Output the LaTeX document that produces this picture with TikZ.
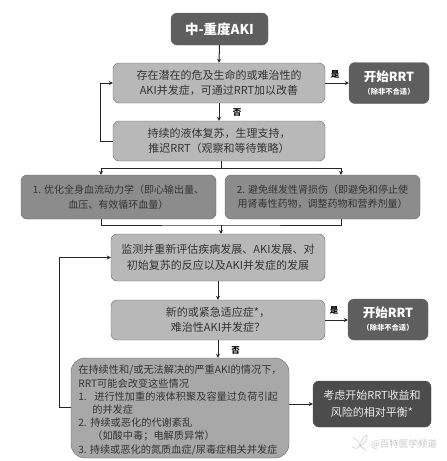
\documentclass[tikz,border=0pt]{standalone}
\usepackage{fontspec}
\setmainfont{Noto Sans CJK SC}
\usetikzlibrary{arrows.meta}
\definecolor{darkbox}{gray}{0.37}
\definecolor{midbox}{gray}{0.55}
\definecolor{lightbox}{gray}{0.72}
\definecolor{bigbox}{gray}{0.66}
\definecolor{inktext}{gray}{0.2}
\newcommand{\tinyline}{\fontsize{7.3}{8}\selectfont}
\tikzset{
  flowbox/.style={draw=gray!80!black,rounded corners=6pt,inner sep=0pt,align=center,text=inktext,font=\fontsize{11}{15.5}\selectfont},
  lightstep/.style={flowbox,fill=lightbox,minimum width=212pt,minimum height=40pt},
  sidestep/.style={flowbox,fill=midbox,minimum width=195pt,minimum height=44pt,font=\fontsize{10}{14.5}\selectfont},
  startbox/.style={flowbox,draw=darkbox,fill=darkbox,text=white,minimum width=80pt,minimum height=41pt,font=\fontsize{12.5}{14}\selectfont\bfseries},
  yesno/.style={inner sep=0pt,text=black,font=\fontsize{8.5}{9}\selectfont\bfseries},
  link/.style={line width=1pt,draw=black!85,-{Stealth[length=4pt,width=4pt]}},
  plain/.style={line width=1pt,draw=black!85}
}
\begin{document}
\begin{tikzpicture}[x=1pt,y=-1pt]
  \useasboundingbox (0,0) rectangle (447,461);
  % boxes
  \node[startbox,minimum width=97pt,minimum height=32pt,font=\fontsize{13.5}{15}\selectfont\bfseries] (aki) at (219.5,29) {中-重度AKI};
  \node[lightstep] (threat) at (219,83) {存在潜在的危及生命的或难治性的\\AKI并发症，可通过RRT加以改善};
  \node[startbox] (start1) at (389,83) {开始RRT\\[-1pt]{\tinyline（除非不合适）}};
  \node[lightstep] (delay) at (219,141) {持续的液体复苏，生理支持，\\推迟RRT（观察和等待策略）};
  \node[sidestep] (hemo) at (118.5,197) {1. 优化全身血流动力学（即心输出量、\\血压、有效循环血量）};
  \node[sidestep] (kidney) at (322.5,197) {2. 避免继发性肾损伤（即避免和停止使\\用肾毒性药物，调整药物和营养剂量）};
  \node[lightstep,minimum width=214pt,minimum height=47pt] (monitor) at (218,257.5) {监测并重新评估疾病发展、AKI发展、对\\初始复苏的反应以及AKI并发症的发展};
  \node[lightstep,minimum width=214pt] (urgent) at (218,320) {新的或紧急适应症*，\\难治性AKI并发症？};
  \node[startbox] (start2) at (388,319.5) {开始RRT\\[-1pt]{\tinyline（除非不合适）}};
  \node[flowbox,fill=bigbox,rounded corners=14pt,minimum width=218pt,minimum height=100pt,align=left,font=\fontsize{10.2}{13.2}\selectfont] (severe) at (180,408) {\rule{0pt}{13pt}在持续性和/或无法解决的严重AKI的情况下，\\RRT可能会改变这些情况\\1.\hspace{7.5pt}进行性加重的液体积聚及容量过负荷引起\\\hspace{14pt}的并发症\\2.\hspace{3.5pt}持续或恶化的代谢紊乱\\\hspace{14pt}（如酸中毒；电解质异常）\\3. 持续或恶化的氮质血症/尿毒症相关并发症};
  \node[flowbox,draw=black!70,fill=black!70,text=white!92!black,minimum width=118pt,minimum height=46pt,font=\fontsize{11}{16.5}\selectfont] (balance) at (372,404) {考虑开始RRT收益和\\风险的相对平衡*};
  % labels
  \node[yesno] (yes1) at (335,74) {是};
  \node[yesno] (no1) at (237,112.5) {否};
  \node[yesno] (yes2) at (334,310) {是};
  \node[yesno] (no2) at (235.5,350) {否};
  \node[inner sep=0pt,text=black!22,font=\fontsize{9.5}{10}\selectfont] (mark) at (404,444) {@百特医学频道};
  % little logo beside the mark
  \draw[black!18,line width=0.7pt] (353,438) .. controls (357,439) and (359,442) .. (360,446) .. controls (357,449) and (354,449) .. (352,447);
  \draw[black!18,line width=0.7pt] (360,446) .. controls (361,441) and (364,436) .. (367,435) .. controls (368,439) and (365,444) .. (360,446);
  \draw[black!18,line width=0.7pt] (360,446) .. controls (362,447) and (364,449) .. (366,450);
  % branch points
  \coordinate (split) at (221,168);
  \coordinate (join) at (221,225);
  % arrows
  \draw[link] (aki.south) -- (threat.north);
  \draw[link] (threat.east) -- (start1.west);
  \draw[link] (threat.south) -- (delay.north);
  \draw[link] (delay.west) -- ++(-12,0) |- (threat.west);
  \draw[plain] (delay.south -| split) -- (split);
  \draw[link] (split) -| (hemo.north -| 101,0);
  \draw[link] (split) -| (kidney.north -| 341,0);
  \draw[plain] (hemo.south -| 101,0) |- (join) -| (kidney.south -| 341,0);
  \draw[link] (join) -- (monitor.north -| join);
  \draw[link] (monitor.south) -- (urgent.north);
  \draw[link] (urgent.east) -- (start2.west |- urgent.east);
  \draw[link] (urgent.south) -- (severe.north -| urgent.south);
  \draw[link] (severe.west |- 0,407) -- (59,407) |- (monitor.west);
  \draw[link] (severe.east |- balance.west) -- (balance.west);
\end{tikzpicture}
\end{document}
